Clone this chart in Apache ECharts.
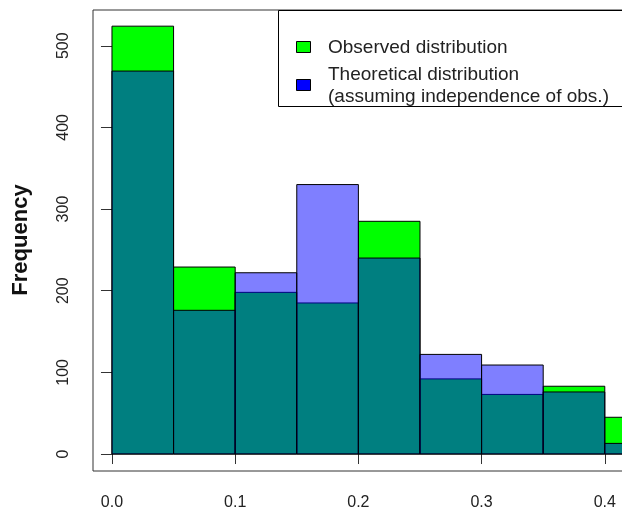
<!DOCTYPE html>
<html>
<head>
<meta charset="utf-8">
<script src="https://cdn.jsdelivr.net/npm/echarts@6/dist/echarts.min.js"></script>
<style>
  html, body { margin: 0; padding: 0; background: #fff; }
  #chart { width: 622px; height: 512px; }
</style>
</head>
<body>
<div id="chart"></div>
<script>
// Histogram bins (left edges) and counts
const binStarts = [0.00, 0.05, 0.10, 0.15, 0.20, 0.25, 0.30, 0.35, 0.40];
const binWidth = 0.05;
const observed = [524, 229, 198, 185, 285, 92, 73, 83, 45];
const theoretical = [469, 176, 222, 330, 240, 122, 109, 76, 13];
const xTicks = [0, 0.1, 0.2, 0.3, 0.4];
const yTicks = [0, 100, 200, 300, 400, 500];
const legendLabels = ['Observed distribution', 'Theoretical distribution', '(assuming independence of obs.)'];

const toBins = counts => binStarts.map((s, i) => [s, s + binWidth, counts[i]]);

function renderBin(params, api) {
  const a = api.coord([api.value(0), 0]);
  const b = api.coord([api.value(1), api.value(2)]);
  return {
    type: 'rect',
    shape: { x: a[0], y: b[1], width: b[0] - a[0], height: a[1] - b[1] },
    style: api.style({ stroke: '#000', lineWidth: 1 })
  };
}

const textColor = '#222';
const chart = echarts.init(document.getElementById('chart'));
chart.setOption({
  animation: false,
  grid: {
    left: 93, top: 10, width: 592, height: 461,
    outerBoundsMode: 'none',
    show: true, borderColor: '#333', borderWidth: 1, backgroundColor: 'transparent'
  },
  xAxis: {
    type: 'value', min: -0.0154, max: 0.4651,
    splitLine: { show: false },
    axisLine: { show: false },
    axisTick: { show: true, length: 10, lineStyle: { color: '#333' }, customValues: xTicks },
    axisLabel: { customValues: xTicks, formatter: v => v.toFixed(1), color: textColor, fontFamily: 'Liberation Sans', fontSize: 16, margin: 24 }
  },
  yAxis: {
    type: 'value', min: -20.8, max: 543.8,
    splitLine: { show: false },
    axisLine: { show: false },
    axisTick: { show: true, length: 11, lineStyle: { color: '#333' }, customValues: yTicks },
    axisLabel: { customValues: yTicks, rotate: 90, color: textColor, fontFamily: 'Liberation Sans', fontSize: 16, margin: 21 }
  },
  series: [
    { type: 'custom', name: 'Observed', renderItem: renderBin, data: toBins(observed), itemStyle: { color: '#00ff00' }, encode: { x: [0, 1], y: 2 } },
    { type: 'custom', name: 'Theoretical', renderItem: renderBin, data: toBins(theoretical), itemStyle: { color: 'rgba(0,0,255,0.5)' }, encode: { x: [0, 1], y: 2 } }
  ],
  graphic: [
    { type: 'text', x: 21, y: 240, rotation: Math.PI / 2, style: { text: 'Frequency', fill: '#111', font: 'bold 22px "Liberation Sans"', textAlign: 'center', textVerticalAlign: 'middle' } },
    { type: 'rect', shape: { x: 278.5, y: 10.5, width: 400, height: 96 }, style: { fill: '#fff', stroke: '#000', lineWidth: 1 }, z: 10 },
    { type: 'rect', shape: { x: 296.5, y: 41.5, width: 14, height: 11 }, style: { fill: '#00ff00', stroke: '#000', lineWidth: 1 }, z: 11 },
    { type: 'rect', shape: { x: 296.5, y: 79.5, width: 14, height: 11 }, style: { fill: '#0000ff', stroke: '#000', lineWidth: 1 }, z: 11 },
    { type: 'text', x: 328, y: 48, style: { text: legendLabels[0], fill: textColor, font: '19px "Liberation Sans"', textVerticalAlign: 'middle' }, z: 11 },
    { type: 'text', x: 328, y: 75, style: { text: legendLabels[1], fill: textColor, font: '19px "Liberation Sans"', textVerticalAlign: 'middle' }, z: 11 },
    { type: 'text', x: 328, y: 97, style: { text: legendLabels[2], fill: textColor, font: '19px "Liberation Sans"', textVerticalAlign: 'middle' }, z: 11 }
  ]
});
</script>
</body>
</html>
